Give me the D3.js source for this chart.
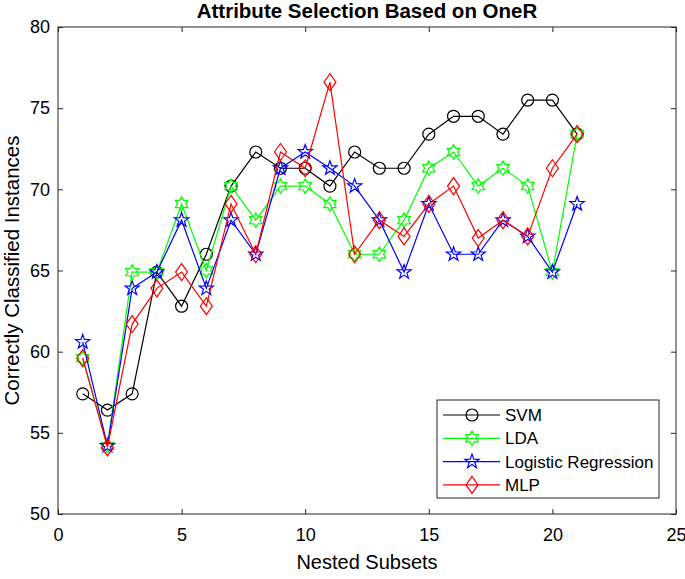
<!DOCTYPE html>
<html><head><meta charset="utf-8">
<script src="https://cdn.jsdelivr.net/npm/d3@7/dist/d3.min.js"></script>
<style>body{margin:0;background:#fff}svg{display:block}text{font-family:"Liberation Sans",Arial,sans-serif}</style>
</head><body><svg id="c" width="685" height="579"></svg>
<script>
const subsets = d3.range(1, 22);
const svm = [57.4,56.4,57.4,64.9,62.8,66.0,70.2,72.3,71.3,71.3,70.2,72.3,71.3,71.3,73.4,74.5,74.5,73.4,75.5,75.5,73.4];
const lda = [59.6,54.2,64.9,64.9,69.1,65.0,70.2,68.1,70.2,70.2,69.1,66.0,66.0,68.1,71.3,72.3,70.2,71.3,70.2,64.9,73.4];
const logreg = [60.6,54.2,63.9,64.9,68.1,63.9,68.1,66.0,71.3,72.3,71.3,70.2,68.1,64.9,69.1,66.0,66.0,68.1,67.1,64.9,69.1];
const mlp = [59.6,54.1,61.7,63.9,64.9,62.8,69.1,66.0,72.3,71.3,76.6,66.0,68.1,67.1,69.1,70.2,67.0,68.1,67.1,71.3,73.4];
const xTicks = [0,5,10,15,20,25];
const yTicks = [50,55,60,65,70,75,80];
const seriesNames = ["SVM","LDA","Logistic Regression","MLP"];

const series = [
  {name: seriesNames[0], values: svm, color: "#000000", marker: "circle"},
  {name: seriesNames[1], values: lda, color: "#00ff00", marker: "hexagram"},
  {name: seriesNames[2], values: logreg, color: "#0000ff", marker: "star"},
  {name: seriesNames[3], values: mlp, color: "#ff0000", marker: "diamond"}
];

const L = 58, R = 676, T = 27, B = 514;
const svg = d3.select("#c");
const x = d3.scaleLinear().domain([0,25]).range([L,R]);
const y = d3.scaleLinear().domain([50,80]).range([B,T]);
const axisColor = "#262626";

function starPath(n, ro, ri) {
  let p = [];
  for (let i = 0; i < 2*n; i++) {
    const a = -Math.PI/2 + i*Math.PI/n;
    const r = i%2===0 ? ro : ri;
    p.push([r*Math.cos(a), r*Math.sin(a)]);
  }
  return "M" + p.map(d=>d[0].toFixed(2)+","+d[1].toFixed(2)).join("L") + "Z";
}
function markerPath(m) {
  if (m === "circle") return d3.symbol(d3.symbolCircle, 113)();
  if (m === "star") return starPath(5, 7.5, 3.0);
  if (m === "hexagram") return starPath(6, 7.2, 4.2);
  if (m === "diamond") return "M0,-8.5L6,0L0,8.5L-6,0Z";
}

const g = svg.append("g");
g.append("rect").attr("x",L).attr("y",T).attr("width",R-L).attr("height",B-T)
  .attr("fill","none").attr("stroke",axisColor).attr("stroke-width",1);

const xAxisB = d3.axisBottom(x).tickValues(xTicks).tickSizeInner(-5).tickSizeOuter(0).tickPadding(14);
const xAxisT = d3.axisTop(x).tickValues(xTicks).tickSizeInner(-5).tickSizeOuter(0).tickFormat("");
const yAxisL = d3.axisLeft(y).tickValues(yTicks).tickSizeInner(-5).tickSizeOuter(0).tickPadding(8);
const yAxisR = d3.axisRight(y).tickValues(yTicks).tickSizeInner(-5).tickSizeOuter(0).tickFormat("");

function styleAxis(sel){
  sel.select(".domain").remove();
  sel.selectAll("line").attr("stroke",axisColor);
  sel.selectAll("text").attr("fill","#000").style("font-size","18px").style("font-family","'Liberation Sans',Arial,sans-serif");
}
svg.append("g").attr("transform",`translate(0,${B})`).call(xAxisB).call(styleAxis);
svg.append("g").attr("transform",`translate(0,${T})`).call(xAxisT).call(styleAxis);
svg.append("g").attr("transform",`translate(${L},0)`).call(yAxisL).call(styleAxis);
svg.append("g").attr("transform",`translate(${R},0)`).call(yAxisR).call(styleAxis);

const line = d3.line().x((d,i)=>x(subsets[i])).y(d=>y(d));
series.forEach(s=>{
  svg.append("path").datum(s.values).attr("d",line).attr("fill","none")
    .attr("stroke",s.color).attr("stroke-width",1.2);
  svg.append("g").selectAll("path").data(s.values).join("path")
    .attr("transform",(d,i)=>`translate(${x(subsets[i])},${y(d)})`)
    .attr("d",markerPath(s.marker)).attr("fill","none")
    .attr("stroke",s.color).attr("stroke-width",1.2);
});

svg.append("text").attr("x",(L+R)/2).attr("y",18).attr("text-anchor","middle")
  .style("font-size","20.5px").style("font-weight","bold").text("Attribute Selection Based on OneR");
svg.append("text").attr("x",(L+R)/2).attr("y",569).attr("text-anchor","middle")
  .style("font-size","20px").text("Nested Subsets");
svg.append("text").attr("transform",`translate(19,${(T+B)/2}) rotate(-90)`).attr("text-anchor","middle")
  .style("font-size","20.5px").text("Correctly Classified Instances");

const lg = svg.append("g");
lg.append("rect").attr("x",437).attr("y",400).attr("width",222).attr("height",98)
  .attr("fill","#fff").attr("stroke",axisColor).attr("stroke-width",1);
series.forEach((s,i)=>{
  const yy = 415 + i*23.3;
  lg.append("line").attr("x1",443).attr("x2",500).attr("y1",yy).attr("y2",yy).attr("stroke",s.color).attr("stroke-width",1.2);
  lg.append("path").attr("transform",`translate(472,${yy})`).attr("d",markerPath(s.marker))
    .attr("fill","none").attr("stroke",s.color).attr("stroke-width",1.2);
  lg.append("text").attr("x",505).attr("y",yy+6).style("font-size","17px").text(s.name);
});
</script></body></html>
